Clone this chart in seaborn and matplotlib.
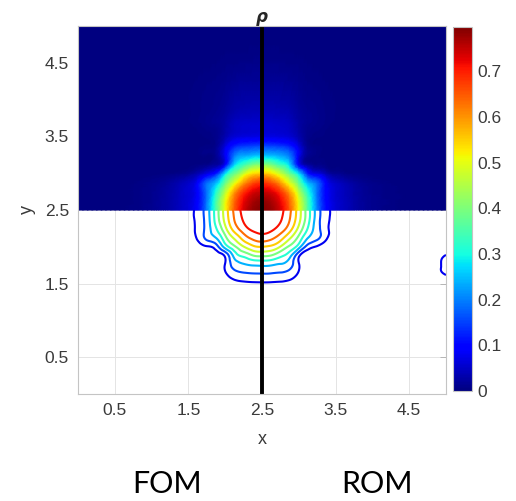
import numpy as np
import matplotlib
matplotlib.use("Agg")
import matplotlib.pyplot as plt
import matplotlib.tri as mtri
import seaborn as sns

# ---------------- data ----------------
# grid node offsets from the source centre (2.5, 2.5); same for x and y
offsets = [0, 0.125, 0.25, 0.375, 0.5, 0.625, 0.75, 0.875, 1.0, 1.125, 1.25, 1.5, 2.0, 2.5]
# rho on one quadrant (field is symmetric): rows = |y-2.5|, columns = |x-2.5|
rho_quadrant = [
    [0.790, 0.780, 0.735, 0.650, 0.510, 0.350, 0.200, 0.100, 0.060, 0.045, 0.030, 0.012, 0.002, 0.0],
    [0.780, 0.765, 0.720, 0.635, 0.500, 0.345, 0.195, 0.098, 0.059, 0.044, 0.030, 0.012, 0.002, 0.0],
    [0.745, 0.730, 0.680, 0.590, 0.455, 0.310, 0.190, 0.095, 0.057, 0.042, 0.028, 0.011, 0.002, 0.0],
    [0.680, 0.655, 0.590, 0.490, 0.375, 0.240, 0.180, 0.090, 0.050, 0.035, 0.022, 0.008, 0.001, 0.0],
    [0.553, 0.535, 0.470, 0.380, 0.270, 0.120, 0.070, 0.035, 0.015, 0.008, 0.004, 0.001, 0.000, 0.0],
    [0.400, 0.385, 0.330, 0.260, 0.090, 0.020, 0.008, 0.004, 0.002, 0.001, 0.000, 0.000, 0.000, 0.0],
    [0.245, 0.240, 0.225, 0.190, 0.085, 0.015, 0.005, 0.002, 0.001, 0.000, 0.000, 0.000, 0.000, 0.0],
    [0.150, 0.148, 0.140, 0.120, 0.065, 0.012, 0.004, 0.001, 0.000, 0.000, 0.000, 0.000, 0.000, 0.0],
    [0.072, 0.071, 0.068, 0.060, 0.035, 0.010, 0.004, 0.002, 0.001, 0.000, 0.000, 0.000, 0.000, 0.0],
    [0.058, 0.057, 0.054, 0.048, 0.028, 0.012, 0.008, 0.004, 0.002, 0.000, 0.000, 0.000, 0.000, 0.0],
    [0.048, 0.047, 0.045, 0.040, 0.024, 0.015, 0.010, 0.006, 0.003, 0.001, 0.000, 0.000, 0.000, 0.0],
    [0.030, 0.030, 0.028, 0.025, 0.016, 0.010, 0.008, 0.005, 0.003, 0.001, 0.000, 0.000, 0.000, 0.0],
    [0.008, 0.008, 0.007, 0.006, 0.005, 0.003, 0.002, 0.001, 0.000, 0.000, 0.000, 0.000, 0.000, 0.0],
    [0.000, 0.000, 0.000, 0.000, 0.000, 0.000, 0.000, 0.000, 0.000, 0.000, 0.000, 0.000, 0.000, 0.0],
]
# small spurious blob near the right edge in the lower (ROM) half
artifact_x = [5.0, 5.0, 5.0]
artifact_y = [1.875, 1.75, 1.625]
artifact_rho = [0.086, 0.094, 0.083]

contour_levels = [0.079, 0.158, 0.237, 0.316, 0.395, 0.474, 0.553, 0.632, 0.711]
rho_max = 0.797
x_ticks = [0.5, 1.5, 2.5, 3.5, 4.5]
y_ticks = [0.5, 1.5, 2.5, 3.5, 4.5]
cbar_ticks = [0, 0.1, 0.2, 0.3, 0.4, 0.5, 0.6, 0.7]
cbar_labels = ["0", "0.1", "0.2", "0.3", "0.4", "0.5", "0.6", "0.7"]
title_text = "ρ"
x_label = "x"
y_label = "y"
bottom_labels = ["FOM", "ROM"]

# ---------------- style ----------------
sns.set_theme(style="white")
plt.rcParams["font.family"] = ["Liberation Sans", "DejaVu Sans"]
cmap = matplotlib.colormaps["jet"]

# ---------------- build grids ----------------
n = np.array(offsets)
q = np.array(rho_quadrant)
xs = np.concatenate([2.5 - n[:0:-1], 2.5 + n])
full = np.concatenate([q[:, :0:-1], q], axis=1)  # rows: |y-2.5| ascending


def grid_tri(xv, yv):
    X, Y = np.meshgrid(xv, yv)
    nx, ny = len(xv), len(yv)
    tris = []
    for j in range(ny - 1):
        for i in range(nx - 1):
            a = j * nx + i
            b = a + 1
            c = a + nx
            d = c + 1
            tris.append([a, b, d])
            tris.append([a, d, c])
    return mtri.Triangulation(X.ravel(), Y.ravel(), np.array(tris))


# upper half (FOM, filled)
y_top = 2.5 + n
tri_top = grid_tri(xs, y_top)
z_top = full.ravel()
tri_top_f, z_top_f = mtri.UniformTriRefiner(tri_top).refine_field(z_top, subdiv=3)

# lower half (ROM, contour lines)
y_bot = 2.5 - n[::-1]
z_bot = full[::-1].copy()
for axx, ayy, v in zip(artifact_x, artifact_y, artifact_rho):
    i = int(np.argmin(np.abs(xs - axx)))
    j = int(np.argmin(np.abs(y_bot - ayy)))
    z_bot[j, i] = v
tri_bot = grid_tri(xs, y_bot)
tri_bot_f, z_bot_f = mtri.UniformTriRefiner(tri_bot).refine_field(z_bot.ravel(), subdiv=3)

# ---------------- figure ----------------
W, H = 516, 501
fig = plt.figure(figsize=(W / 100, H / 100), dpi=100)
ax = fig.add_axes([78 / W, (H - 394) / H, 368 / W, 368 / H])
cax = fig.add_axes([453 / W, (H - 391) / H, 18.5 / W, 364 / H])

tpc = ax.tripcolor(tri_top_f, z_top_f, shading="gouraud", cmap=cmap,
                   vmin=0, vmax=rho_max, zorder=2)
ax.tricontour(tri_bot_f, z_bot_f, levels=contour_levels, cmap=cmap,
              vmin=0, vmax=rho_max, linewidths=1.5, zorder=2)
ax.axvline(2.5, color="black", lw=2.8, zorder=3)

ax.set_xlim(0, 5)
ax.set_ylim(0, 5)
ax.set_xticks(x_ticks)
ax.set_yticks(y_ticks)
ax.set_xticklabels([f"{t:g}" for t in x_ticks])
ax.set_yticklabels([f"{t:g}" for t in y_ticks])
ax.grid(True, color="#e4e4e4", lw=0.7)
ax.set_axisbelow(True)
ax.tick_params(direction="in", length=4, width=0.7, top=True, right=True,
               color="#b5b5b5", labelcolor="#3a3a3a", labelsize=12.5, pad=6.5)
for s in ax.spines.values():
    s.set_color("#c4c4c4")
    s.set_linewidth(0.8)
    s.set_zorder(4)
ax.set_xlabel(x_label, fontsize=13, color="#3a3a3a", labelpad=9)
ax.set_ylabel(y_label, fontsize=13, color="#3a3a3a", labelpad=6)
ax.set_title(title_text, fontsize=12, fontstyle="italic", fontweight="bold",
             family=["DejaVu Sans"], pad=3)

cb = fig.colorbar(tpc, cax=cax, ticks=cbar_ticks)
cb.ax.set_yticklabels(cbar_labels)
cax.tick_params(direction="in", length=3, width=0.7, color="#6a6a6a",
                labelcolor="#3a3a3a", labelsize=12.5, pad=4)
cb.outline.set_edgecolor("#c4c4c4")
cb.outline.set_linewidth(0.8)

fig.text(167 / W, 1 - 484 / H, bottom_labels[0], fontsize=22, family=["Lato", "DejaVu Sans"],
         ha="center", va="center", color="black")
fig.text(377 / W, 1 - 484 / H, bottom_labels[1], fontsize=22, family=["Lato", "DejaVu Sans"],
         ha="center", va="center", color="black")

fig.savefig("out.png", dpi=100)
